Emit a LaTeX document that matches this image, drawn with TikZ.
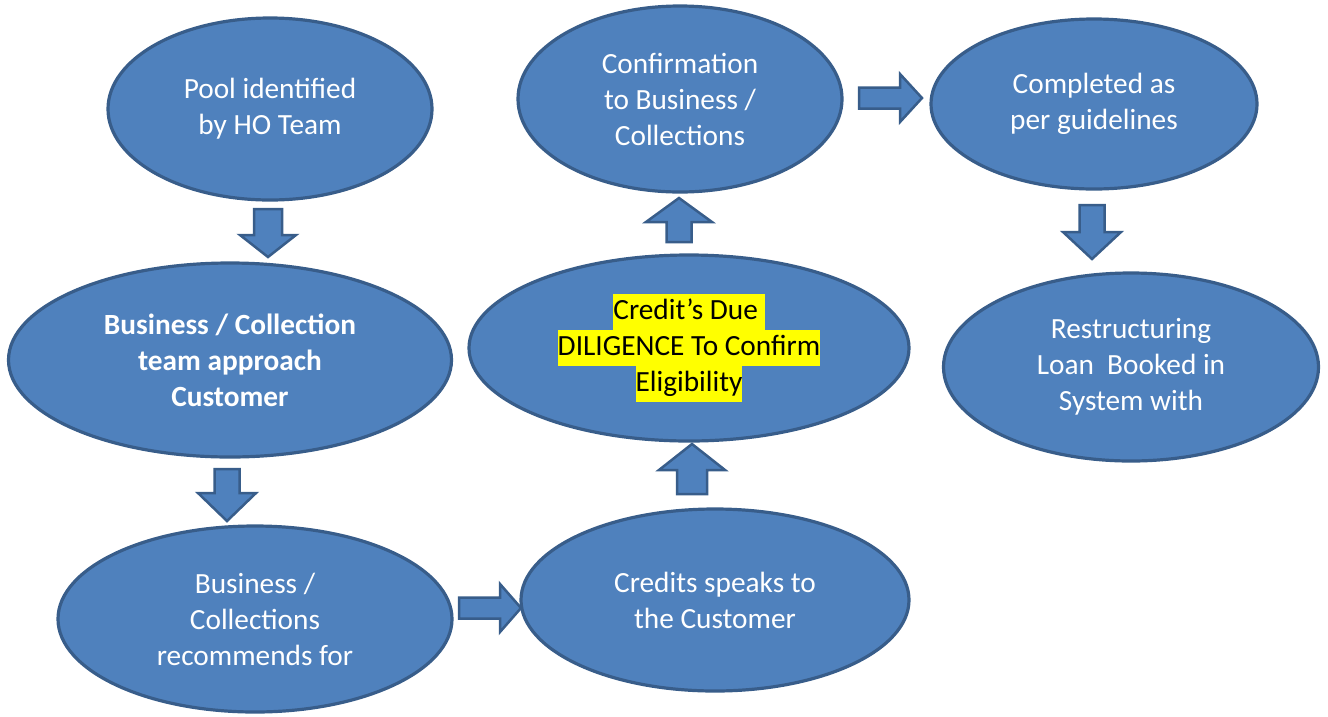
\documentclass[tikz,border=0pt]{standalone}
\usepackage{fontspec}
\setmainfont{Carlito}
\usetikzlibrary{shapes.geometric}
\definecolor{bfill}{HTML}{4F81BD}
\definecolor{bline}{HTML}{385D8A}
\definecolor{hl}{HTML}{FFFF00}
\newcommand\vblock[6]{\draw[blockarrow] (#1-#5,#2) -- (#1+#5,#2) -- (#1+#5,#3) -- (#1+#6,#3) -- (#1,#4) -- (#1-#6,#3) -- (#1-#5,#3) -- cycle;}
\newcommand\hblock[6]{\draw[blockarrow] (#2,#1-#5) -- (#2,#1+#5) -- (#3,#1+#5) -- (#3,#1+#6) -- (#4,#1) -- (#3,#1-#6) -- (#3,#1-#5) -- cycle;}
\newcommand\hlline[1]{\colorbox{hl}{\strut\color{black}#1}}
\begin{document}
\begin{tikzpicture}[x=1pt,y=-1pt,
  stage/.style={ellipse, draw=bline, fill=bfill, line width=3.2pt, inner sep=0pt,
    text=white, align=center, font=\fontsize{29.3}{36}\selectfont},
  blockarrow/.style={draw=bline, fill=bfill, line width=2.5pt, line join=miter}]
\useasboundingbox (0,0) rectangle (1328,716);
\setlength{\fboxsep}{0pt}
\node[stage, minimum width=324pt, minimum height=182pt] (e1) at (270,109) {Pool identified\\by HO Team};
\node[stage, minimum width=443pt, minimum height=194pt, font=\fontsize{29.3}{36}\selectfont\bfseries] (e2) at (230,360) {Business / Collection\\team approach\\Customer};
\node[stage, minimum width=394pt, minimum height=186pt] (e3) at (255,619) {Business /\\Collections\\recommends for};
\node[stage, minimum width=388pt, minimum height=182pt] (e4) at (715,600) {Credits speaks to\\the Customer};
\node[stage, minimum width=440pt, minimum height=186pt] (e5) at (689,348) {\hlline{Credit’s Due\ }\\\hlline{DILIGENCE To Confirm}\\\hlline{Eligibility}};
\node[stage, minimum width=324pt, minimum height=186pt] (e6) at (680,99) {Confirmation\\to Business /\\Collections};
\node[stage, minimum width=326pt, minimum height=170pt] (e7) at (1094,104) {Completed as\\per guidelines};
\node[stage, minimum width=375pt, minimum height=188pt] (e8) at (1131,367) {Restructuring\\Loan~ Booked in\\System with};
\vblock{268}{209}{235}{257}{14}{28}
\vblock{227}{469}{493}{521}{12.5}{29}
\vblock{692}{494}{470}{444}{15}{33}
\vblock{679}{242}{222}{198}{12.5}{33}
\hblock{608}{459}{500}{521}{10.5}{24}
\hblock{98}{859}{900}{922}{10.5}{24}
\vblock{1092}{205}{232}{259}{12.5}{29}
\end{tikzpicture}
\end{document}
